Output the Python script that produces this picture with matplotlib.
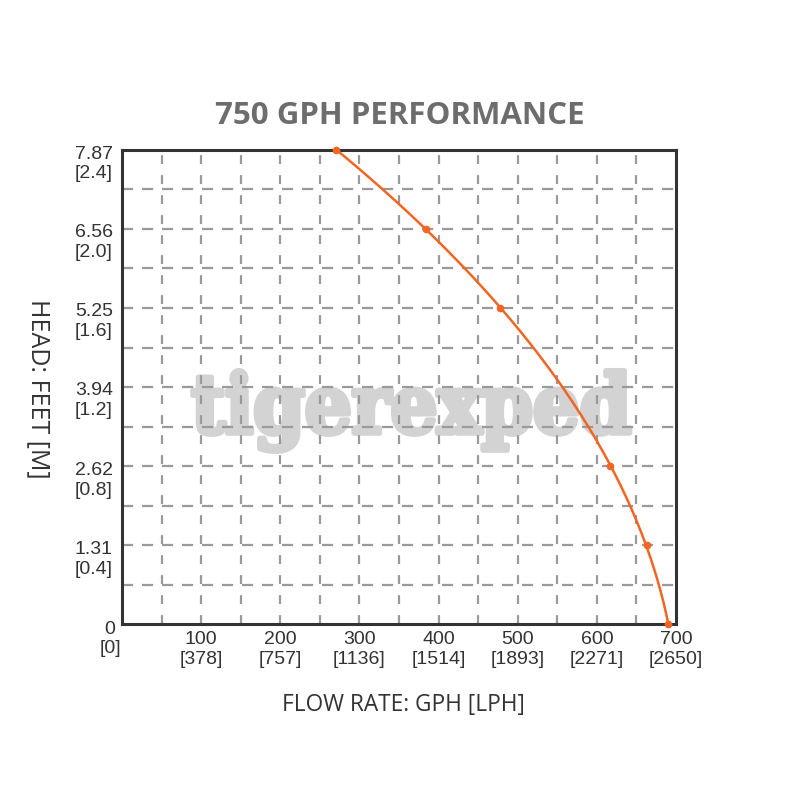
import numpy as np
import matplotlib
matplotlib.use("Agg")
import matplotlib.pyplot as plt
import matplotlib.patheffects as pe
from matplotlib.transforms import ScaledTranslation, blended_transform_factory

# ---- data ----
flow_gph = [271, 384, 478, 617, 663, 690]
head_ft = [7.87, 6.56, 5.25, 2.62, 1.31, 0.0]

x_ticks = [100, 200, 300, 400, 500, 600, 700]
x_tick_labels = ["100\n[378]", "200\n[757]", "300\n[1136]", "400\n[1514]",
                 "500\n[1893]", "600\n[2271]", "700\n[2650]"]
y_ticks = [1.31, 2.62, 3.94, 5.25, 6.56, 7.87]
y_tick_labels = ["1.31\n[0.4]", "2.62\n[0.8]", "3.94\n[1.2]", "5.25\n[1.6]",
                 "6.56\n[2.0]", "7.87\n[2.4]"]
origin_label = "0\n[0]"

title = "750 GPH PERFORMANCE"
xlabel = "FLOW RATE: GPH [LPH]"
ylabel = "HEAD: FEET [M]"
watermark = "tigerexped"

ORANGE = "#F26522"
WM = "#d3d3d3"

fig = plt.figure(figsize=(8, 8), dpi=100)
ax = fig.add_axes([122/800, 1-624/800, (676-122)/800, (624-150)/800])
ax.set_xlim(0, 700)
ax.set_ylim(0, 7.87)

# grid
for gx in np.arange(50, 700, 50):
    ax.axvline(gx, color="#9a9a9a", lw=1.6, ls=(0, (4, 5)), zorder=1)
for gy in np.arange(1, 12) * (7.87 / 12):
    ax.axhline(gy, color="#9a9a9a", lw=1.6, ls=(0, (5, 4)), zorder=1)

for s in ax.spines.values():
    s.set_color("#333333")
    s.set_linewidth(2.2)
ax.set_xticks([])
ax.set_yticks([])

# watermark (under the grid)
ax.text(0.522, (624-433)/474, watermark, transform=ax.transAxes, ha="center",
        va="baseline", fontsize=59, fontweight="bold", family="DejaVu Serif",
        fontstretch="condensed", color=WM, zorder=0,
        path_effects=[pe.withStroke(linewidth=4, foreground=WM)])

# curve (smooth through read points)
hy = np.array(head_ft)
fx = np.array(flow_gph)
coef = np.polyfit(hy, fx, 3)
ys = np.linspace(0, 7.87, 200)
xs = np.polyval(coef, ys)
ax.plot(xs, ys, color=ORANGE, lw=1.8, zorder=3, clip_on=False)
ax.plot(fx, hy, "o", color=ORANGE, ms=4.5, zorder=4, clip_on=False)

tick_font = dict(family="Liberation Sans", fontsize=14, color="#333333",
                 linespacing=1.22)

# y labels
ytr = blended_transform_factory(ax.transAxes, ax.transData)
off_y = ScaledTranslation(-9/100, -14/100, fig.dpi_scale_trans)
for v, lab in zip(y_ticks, y_tick_labels):
    ax.text(0, v, lab, transform=ytr + off_y, ha="right", va="center",
            multialignment="right", **tick_font)
ax.text(0, 0, origin_label, transform=ytr + ScaledTranslation(-12/100, -15/100, fig.dpi_scale_trans),
        ha="center", va="center", multialignment="center", **tick_font)

# x labels
xtr = blended_transform_factory(ax.transData, ax.transAxes)
off_x = ScaledTranslation(0, -7/100, fig.dpi_scale_trans)
for v, lab in zip(x_ticks, x_tick_labels):
    ax.text(v, 0, lab, transform=xtr + off_x, ha="center", va="top",
            multialignment="center", **tick_font)

fig.text(0.5, 1-116/800, title, ha="center", va="center", fontsize=22.5,
         fontweight="bold", family="Open Sans", color="#6d6d6d")
fig.text(403/800, 1-705/800, xlabel, ha="center", va="center", fontsize=16.3,
         family="Open Sans", color="#333333")
fig.text(38/800, 1-389/800, ylabel, ha="center", va="center", fontsize=18,
         family="Open Sans", color="#333333", rotation=-90)

fig.savefig("out.png", dpi=100, facecolor="white")
